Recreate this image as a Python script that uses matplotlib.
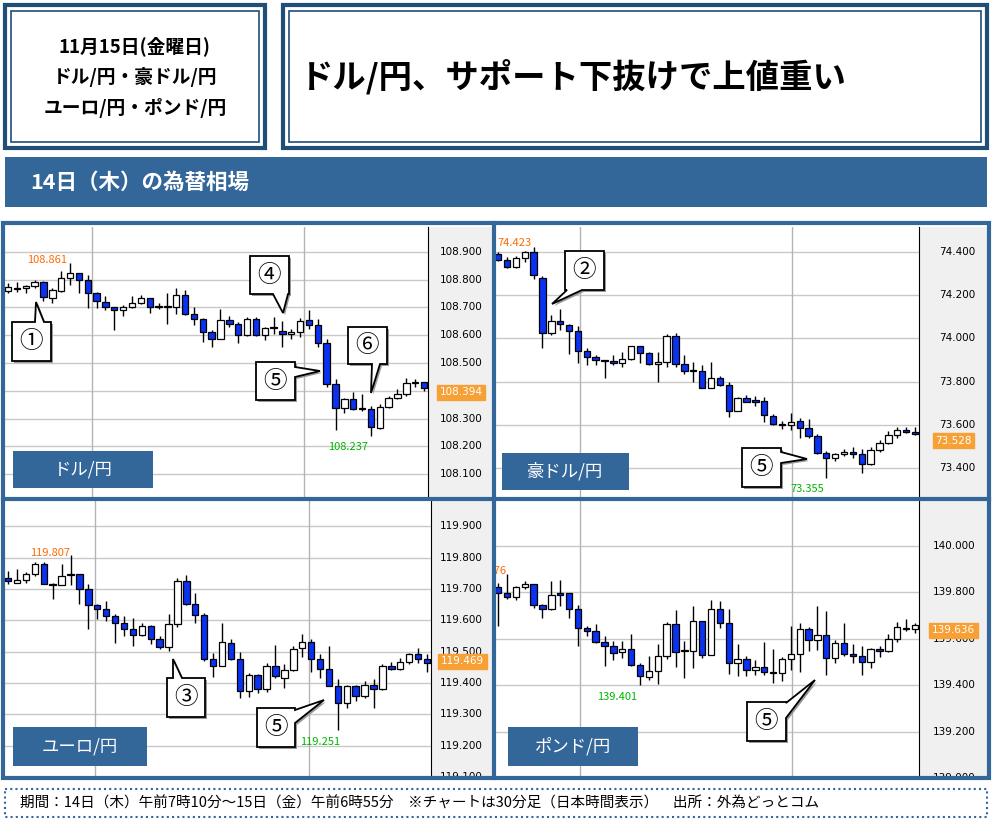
import matplotlib
matplotlib.use("Agg")
import matplotlib.pyplot as plt
from matplotlib.patches import Rectangle, Polygon
import numpy as np

plt.rcParams['font.family'] = ['Noto Sans CJK JP', 'DejaVu Sans']

# ---------------- data ----------------
usd_o = [108.758,108.769,108.768,108.777,108.792,108.735,108.760,108.804,108.822,108.800,108.753,108.720,108.703,108.692,108.703,108.717,
         108.732,108.702,108.701,108.701,108.744,108.677,108.659,108.611,108.587,108.656,108.641,108.602,108.659,108.599,108.627,108.614,
         108.603,108.610,108.653,108.638,108.573,108.425,108.337,108.371,108.335,108.334,108.268,108.340,108.373,108.387,108.428,108.431]
usd_h = [108.786,108.792,108.780,108.798,108.794,108.768,108.830,108.861,108.822,108.816,108.756,108.740,108.703,108.710,108.740,108.746,
         108.732,108.717,108.753,108.768,108.762,108.701,108.662,108.617,108.695,108.669,108.647,108.664,108.664,108.629,108.665,108.650,
         108.621,108.662,108.689,108.657,108.587,108.443,108.373,108.395,108.389,108.346,108.352,108.380,108.407,108.445,108.443,108.431]
usd_l = [108.750,108.756,108.752,108.770,108.722,108.717,108.756,108.780,108.752,108.698,108.698,108.690,108.620,108.669,108.696,108.713,
         108.681,108.693,108.641,108.677,108.674,108.635,108.575,108.557,108.587,108.629,108.573,108.596,108.597,108.581,108.605,108.557,
         108.587,108.593,108.623,108.557,108.413,108.260,108.322,108.332,108.328,108.237,108.262,108.337,108.370,108.380,108.413,108.398]
usd_c = [108.774,108.767,108.777,108.792,108.738,108.762,108.804,108.822,108.800,108.753,108.722,108.703,108.692,108.703,108.717,108.732,
         108.700,108.701,108.702,108.744,108.677,108.659,108.611,108.587,108.656,108.641,108.602,108.659,108.599,108.627,108.626,108.603,
         108.610,108.650,108.638,108.573,108.425,108.337,108.371,108.334,108.334,108.271,108.340,108.373,108.387,108.428,108.429,108.410]

aud_o = [74.392,74.361,74.330,74.369,74.397,74.281,74.026,74.080,74.063,74.032,73.942,73.915,73.896,73.894,73.888,73.905,
         73.963,73.933,73.882,73.893,74.009,73.882,73.848,73.848,73.771,73.817,73.785,73.666,73.725,73.709,73.709,73.640,
         73.602,73.601,73.620,73.585,73.550,73.470,73.449,73.464,73.473,73.464,73.419,73.483,73.516,73.553,73.578,73.568]
aud_h = [74.400,74.377,74.381,74.403,74.423,74.287,74.106,74.134,74.068,74.055,73.955,73.921,73.898,73.921,73.936,73.967,
         73.963,73.936,73.936,74.018,74.026,73.921,73.893,73.878,73.893,73.828,73.797,73.728,73.740,73.732,73.731,73.650,
         73.619,73.655,73.630,73.627,73.558,73.480,73.470,73.488,73.496,73.488,73.496,73.531,73.570,73.589,73.589,73.589]
aud_l = [74.357,74.326,74.326,74.354,74.273,73.955,74.017,74.037,73.929,73.887,73.878,73.878,73.819,73.878,73.867,73.901,
         73.887,73.878,73.797,73.867,73.867,73.836,73.800,73.771,73.771,73.782,73.635,73.663,73.704,73.689,73.615,73.599,
         73.581,73.578,73.542,73.542,73.465,73.355,73.434,73.457,73.449,73.380,73.414,73.473,73.511,73.542,73.565,73.553]
aud_c = [74.361,74.330,74.369,74.397,74.295,74.026,74.080,74.065,74.032,73.942,73.915,73.898,73.895,73.888,73.905,73.963,
         73.933,73.882,73.893,74.009,73.882,73.847,73.847,73.771,73.817,73.786,73.666,73.725,73.708,73.708,73.645,73.604,
         73.601,73.612,73.585,73.550,73.470,73.449,73.465,73.473,73.464,73.419,73.483,73.516,73.553,73.578,73.568,73.557]

eur_o = [119.736,119.720,119.728,119.749,119.781,119.717,119.712,119.744,119.749,119.701,119.648,119.635,119.614,119.592,119.573,119.552,
         119.582,119.541,119.515,119.589,119.726,119.653,119.616,119.477,119.455,119.528,119.477,119.375,119.427,119.381,119.455,119.416,
         119.440,119.512,119.530,119.475,119.445,119.391,119.336,119.391,119.357,119.394,119.380,119.455,119.445,119.466,119.494,119.478]
eur_h = [119.758,119.765,119.755,119.787,119.787,119.720,119.779,119.807,119.749,119.715,119.653,119.661,119.619,119.614,119.608,119.592,
         119.584,119.549,119.621,119.736,119.744,119.688,119.624,119.496,119.592,119.539,119.498,119.432,119.430,119.464,119.520,119.462,
         119.517,119.555,119.539,119.491,119.517,119.413,119.394,119.394,119.405,119.413,119.459,119.466,119.480,119.496,119.512,119.491]
eur_l = [119.715,119.718,119.720,119.742,119.715,119.667,119.712,119.712,119.651,119.573,119.603,119.598,119.528,119.549,119.517,119.549,
         119.523,119.509,119.501,119.578,119.648,119.592,119.469,119.419,119.455,119.473,119.352,119.355,119.368,119.370,119.416,119.384,
         119.437,119.483,119.434,119.416,119.391,119.251,119.320,119.341,119.352,119.320,119.378,119.440,119.440,119.459,119.464,119.434]
eur_c = [119.726,119.728,119.749,119.781,119.717,119.712,119.742,119.749,119.701,119.650,119.635,119.614,119.592,119.573,119.552,119.582,
         119.541,119.515,119.589,119.726,119.653,119.616,119.477,119.455,119.530,119.477,119.375,119.427,119.381,119.455,119.421,119.440,
         119.509,119.530,119.475,119.445,119.391,119.336,119.391,119.359,119.394,119.380,119.455,119.445,119.466,119.494,119.478,119.464]

gbp_o = [139.823,139.798,139.781,139.824,139.837,139.745,139.726,139.791,139.798,139.729,139.647,139.635,139.586,139.568,139.543,139.556,
         139.485,139.437,139.459,139.524,139.664,139.546,139.545,139.676,139.529,139.729,139.668,139.495,139.513,139.467,139.478,139.455,
         139.451,139.513,139.534,139.643,139.596,139.615,139.517,139.582,139.532,139.524,139.500,139.556,139.546,139.599,139.647,139.640]
gbp_h = [139.841,139.877,139.827,139.849,139.837,139.748,139.849,139.853,139.798,139.743,139.654,139.664,139.611,139.589,139.589,139.622,
         139.495,139.524,139.575,139.671,139.722,139.592,139.741,139.676,139.766,139.762,139.726,139.575,139.524,139.510,139.586,139.556,
         139.520,139.654,139.668,139.650,139.741,139.719,139.596,139.668,139.579,139.570,139.560,139.568,139.618,139.671,139.683,139.666]
gbp_l = [139.654,139.769,139.766,139.816,139.733,139.687,139.723,139.741,139.690,139.570,139.611,139.582,139.484,139.510,139.517,139.481,
         139.401,139.423,139.405,139.513,139.478,139.431,139.474,139.517,139.529,139.647,139.449,139.438,139.441,139.445,139.445,139.409,
         139.416,139.467,139.455,139.546,139.550,139.445,139.496,139.527,139.496,139.445,139.474,139.521,139.542,139.585,139.632,139.625]
gbp_c = [139.798,139.781,139.824,139.837,139.745,139.726,139.788,139.790,139.729,139.647,139.635,139.586,139.568,139.539,139.556,139.485,
         139.438,139.459,139.524,139.664,139.543,139.545,139.676,139.529,139.729,139.668,139.495,139.513,139.467,139.478,139.457,139.451,
         139.513,139.534,139.643,139.596,139.615,139.517,139.582,139.532,139.524,139.500,139.556,139.546,139.599,139.651,139.640,139.657]

usd_ticks = [108.0,108.1,108.2,108.3,108.4,108.5,108.6,108.7,108.8,108.9]
aud_ticks = [73.4,73.6,73.8,74.0,74.2,74.4]
eur_ticks = [119.1,119.2,119.3,119.4,119.5,119.6,119.7,119.8,119.9]
gbp_ticks = [139.0,139.2,139.4,139.6,139.8,140.0]

# ---------------- figure ----------------
W, H = 992, 821
fig = plt.figure(figsize=(W/100, H/100), dpi=100)
BLUE = '#336699'
DARK = '#1f4e79'
CANDLE = '#0a32f0'
ORANGE = '#f7a035'

def px_axes(x0, y0, x1, y1, **kw):
    return fig.add_axes([x0/W, 1-y1/H, (x1-x0)/W, (y1-y0)/H], **kw)

ov = px_axes(0, 0, W, H, zorder=20)
ov.set_xlim(0, W); ov.set_ylim(H, 0); ov.axis('off')
ov.patch.set_alpha(0)

bg = px_axes(0, 0, W, H, zorder=0)
bg.set_xlim(0, W); bg.set_ylim(H, 0); bg.axis('off')

def dbl_box(ax, x0, y0, x1, y1):
    ax.add_patch(Rectangle((x0, y0), x1-x0, y1-y0, fill=False, ec=DARK, lw=3))
    ax.add_patch(Rectangle((x0+6, y0+6), x1-x0-12, y1-y0-12, fill=False, ec=DARK, lw=1.2))

dbl_box(bg, 5, 5, 265, 148)
dbl_box(bg, 283, 5, 987, 148)
for i, t in enumerate(["11月15日(金曜日)", "ドル/円・豪ドル/円", "ユーロ/円・ポンド/円"]):
    bg.text(135, 46 + i*31, t, ha='center', va='center', fontsize=13.5, fontweight='bold')
bg.text(300, 77, "ドル/円、サポート下抜けで上値重い", ha='left', va='center', fontsize=24, fontweight='bold')
bg.add_patch(Rectangle((5, 157), 982, 50, fc=BLUE, ec='none'))
bg.text(30, 182, "14日（木）の為替相場", color='white', ha='left', va='center', fontsize=15.5, fontweight='bold')
bg.add_patch(Rectangle((5, 789), 982, 28, fill=False, ec=BLUE, lw=1.5, ls=(0, (1, 1.5))))
bg.text(20, 803, "期間：14日（木）午前7時10分～15日（金）午前6時55分　※チャートは30分足（日本時間表示）　出所：外為どっとコム",
        ha='left', va='center', fontsize=10.5)

def panel(px0, py0, px1, py1, axx, o, h, l, c, ticks, ylim, vgrid, last):
    ax = px_axes(px0, py0, axx, py1, zorder=5)
    n = len(o)
    xs = np.arange(n)
    ax.set_xlim(-0.35, n - 1 + 0.45)
    ax.set_ylim(*ylim)
    for t in ticks:
        ax.axhline(t, color='#c8c8c8', lw=1, zorder=0)
    for v in vgrid:
        ax.axvline(v, color='#b4b4b4', lw=1, zorder=0)
    oa, ha_, la, ca = map(np.array, (o, h, l, c))
    ax.vlines(xs, la, ha_, color='black', lw=1, zorder=2)
    up = ca >= oa
    bottom = np.minimum(oa, ca)
    height = np.maximum(np.abs(ca - oa), (ylim[1]-ylim[0])*0.004)
    cols = np.where(up, 'white', CANDLE)
    ax.bar(xs, height, bottom=bottom, width=0.72, color=cols, edgecolor='black', lw=0.9, zorder=3)
    ax.set_xticks([]); ax.set_yticks([])
    for s in ax.spines.values():
        s.set_visible(False)
    ax.spines['right'].set_visible(True); ax.spines['right'].set_color('black')
    pa = px_axes(axx, py0, px1, py1, zorder=4)
    pa.set_facecolor('#f0f0f0')
    pa.set_ylim(*ylim); pa.set_xlim(0, 1)
    pa.set_xticks([]); pa.set_yticks([])
    for s in pa.spines.values():
        s.set_visible(False)
    for t in ticks:
        pa.text(0.82, t, f"{t:.3f}", ha='right', va='center', fontsize=7.5,
                family=['Liberation Sans Narrow', 'DejaVu Sans'], clip_on=True)
    pa.text(0.5, last, f"{last:.3f}", ha='center', va='center', fontsize=7.5, color='white',
            family=['Liberation Sans Narrow', 'DejaVu Sans'],
            bbox=dict(boxstyle='square,pad=0.25', fc=ORANGE, ec=ORANGE), zorder=6)
    return ax

panel(5, 227, 494, 499, 428, usd_o, usd_h, usd_l, usd_c, usd_ticks, (108.011, 108.989), [9.5, 33.4], 108.394)
panel(495, 227, 988, 499, 919, aud_o, aud_h, aud_l, aud_c, aud_ticks, (73.258, 74.5145), [9.2, 33.1], 73.528)
panel(5, 501, 494, 776, 431, eur_o, eur_h, eur_l, eur_c, eur_ticks, (119.103, 119.981), [9.7, 33.8], 119.469)
panel(495, 501, 988, 776, 919, gbp_o, gbp_h, gbp_l, gbp_c, gbp_ticks, (139.0085, 140.193), [9.2, 33.1], 139.636)

ov.add_patch(Rectangle((3, 223), 986, 555, fill=False, ec=BLUE, lw=3))
ov.plot([494, 494], [223, 778], color=BLUE, lw=3)
ov.plot([3, 989], [499.5, 499.5], color=BLUE, lw=3)

for (x0, y0, x1, y1, t) in [(13, 451, 153, 488, "ドル/円"), (502, 453, 629, 490, "豪ドル/円"),
                            (13, 727, 147, 766, "ユーロ/円"), (508, 727, 638, 766, "ポンド/円")]:
    ov.add_patch(Rectangle((x0, y0), x1-x0, y1-y0, fc=BLUE, ec='none'))
    ov.text((x0+x1)/2, (y0+y1)/2, t, color='white', ha='center', va='center', fontsize=12.5)

for x, y, t, col, ha in [(47, 260, "108.861", '#ff6a00', 'center'), (348, 447, "108.237", '#00b400', 'center'),
                         (497, 243, "74.423", '#ff6a00', 'left'), (807, 489, "73.355", '#00b400', 'center'),
                         (50, 553, "119.807", '#ff6a00', 'center'), (320, 742, "119.251", '#00b400', 'center'),
                         (617, 697, "139.401", '#00b400', 'center')]:
    ov.text(x, y, t, color=col, ha=ha, va='center', fontsize=8)
gt = ov.text(506, 571, "139.876", color='#ff6a00', ha='right', va='center', fontsize=8, clip_on=True)
gt.set_clip_path(Rectangle((496, 501), 423, 275, transform=ov.transData))

def callout(x0, y0, x1, y1, side, a, b, tip, num):
    tx, ty = tip
    if side == 'top':
        pts = [(x0, y0), (a, y0), (tx, ty), (b, y0), (x1, y0), (x1, y1), (x0, y1)]
    elif side == 'bottom':
        pts = [(x0, y0), (x1, y0), (x1, y1), (b, y1), (tx, ty), (a, y1), (x0, y1)]
    else:
        pts = [(x0, y0), (x1, y0), (x1, a), (tx, ty), (x1, b), (x1, y1), (x0, y1)]
    sh = [(px+2, py+2) for px, py in pts]
    ov.add_patch(Polygon(sh, closed=True, fc='#999999', ec='none', zorder=21))
    ov.add_patch(Polygon(pts, closed=True, fc='white', ec='black', lw=1.3, zorder=22))
    ov.text((x0+x1)/2, (y0+y1)/2, num, ha='center', va='center', fontsize=17, zorder=23)

callout(12, 322, 51, 361, 'top', 35, 44, (36, 302), "①")
callout(250, 256, 289, 294, 'bottom', 273, 288, (283, 313), "④")
callout(256, 362, 295, 400, 'right', 367, 377, (320, 371), "⑤")
callout(348, 327, 387, 364, 'bottom', 372, 380, (371, 393), "⑥")
callout(565, 251, 604, 290, 'bottom', 567, 582, (552, 304), "②")
callout(742, 448, 781, 487, 'right', 452, 463, (807, 459), "⑤")
callout(167, 678, 205, 717, 'top', 173, 182, (173, 659), "③")
callout(257, 708, 295, 747, 'right', 710, 723, (324, 700), "⑤")
callout(747, 702, 786, 741, 'right', 703, 718, (815, 680), "⑤")

fig.savefig("out.png", dpi=100)
